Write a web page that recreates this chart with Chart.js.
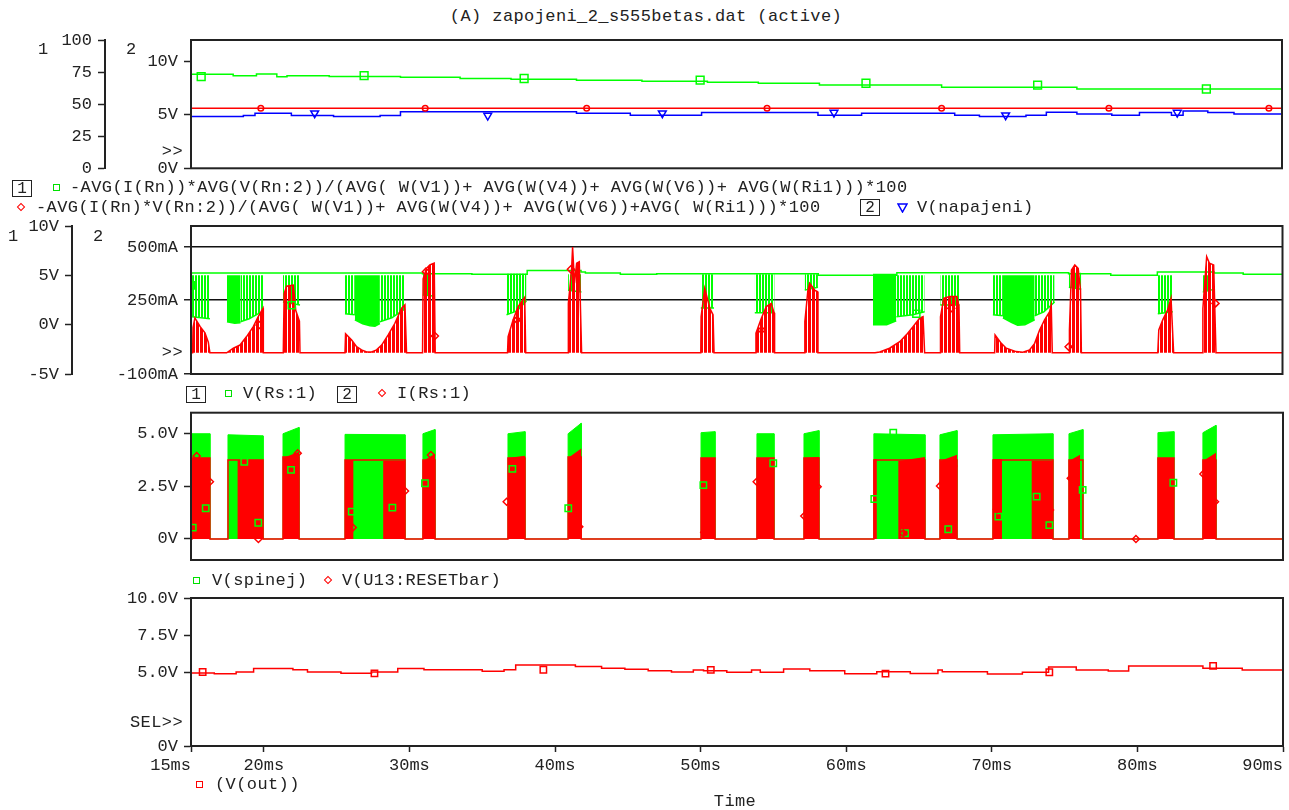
<!DOCTYPE html>
<html>
<head>
<meta charset="utf-8">
<script src="https://cdn.jsdelivr.net/npm/chart.js"></script>
<style>
body { margin: 0; background: #fff; width: 1289px; height: 810px; position: relative; overflow: hidden; font-family: 'Liberation Mono', 'DejaVu Sans Mono', monospace; }
canvas { position: absolute; left: 0; }
.t { position: absolute; white-space: pre; font-size: 17px; letter-spacing: 0.4px; line-height: 18px; color: #222; }
.box { position: absolute; border: 1.5px solid #222; width: 18px; height: 15px; text-align: center; font-size: 16px; line-height: 16px; color: #222; }
.sq { position: absolute; width: 5px; height: 5px; border: 1.5px solid; }
.dm { position: absolute; width: 4px; height: 4px; border: 1.5px solid; transform: rotate(45deg); }
</style>
</head>
<body>
<canvas id="p1" width="1289" height="152" style="top:28px"></canvas>
<canvas id="p2" width="1289" height="176" style="top:212px"></canvas>
<canvas id="p3" width="1289" height="176" style="top:398px"></canvas>
<canvas id="p4" width="1289" height="230" style="top:580px"></canvas>

<div class="t" style="left:646px;top:8px;transform:translateX(-50%)">(A) zapojeni_2_s555betas.dat (active)</div>

<div class="t" style="left:38px;top:41px">1</div>
<div class="t" style="left:126px;top:41px">2</div>
<div class="t" style="right:1106px;top:143px">&gt;&gt;</div>

<div class="box" style="left:12px;top:180px">1</div>
<div class="sq" style="left:53px;top:184px;border-color:#00e000"></div>
<div class="t" style="left:70px;top:179px">-AVG(I(Rn))*AVG(V(Rn:2))/(AVG( W(V1))+ AVG(W(V4))+ AVG(W(V6))+ AVG(W(Ri1)))*100</div>
<div class="dm" style="left:18px;top:204px;border-color:#f00"></div>
<div class="t" style="left:36px;top:199px">-AVG(I(Rn)*V(Rn:2))/(AVG( W(V1))+ AVG(W(V4))+ AVG(W(V6))+AVG( W(Ri1)))*100</div>
<div class="box" style="left:860px;top:199px">2</div>
<svg style="position:absolute;left:897px;top:203px" width="11" height="10"><polygon points="1,1 10,1 5.5,9" fill="none" stroke="#00f" stroke-width="1.5"/></svg>
<div class="t" style="left:917px;top:199px">V(napajeni)</div>

<div class="t" style="left:8px;top:228px">1</div>
<div class="t" style="left:93px;top:228px">2</div>
<div class="t" style="right:1106px;top:344px">&gt;&gt;</div>

<div class="box" style="left:186px;top:386px">1</div>
<div class="sq" style="left:225px;top:390px;border-color:#00e000"></div>
<div class="t" style="left:243px;top:385px">V(Rs:1)</div>
<div class="box" style="left:337px;top:386px">2</div>
<div class="dm" style="left:379px;top:390px;border-color:#f00"></div>
<div class="t" style="left:397px;top:385px">I(Rs:1)</div>

<div class="sq" style="left:193px;top:577px;border-color:#00e000"></div>
<div class="t" style="left:212px;top:572px">V(spinej)</div>
<div class="dm" style="left:325px;top:577px;border-color:#f00"></div>
<div class="t" style="left:342px;top:572px">V(U13:RESETbar)</div>

<div class="t" style="right:1106px;top:714px">SEL&gt;&gt;</div>

<div class="sq" style="left:196px;top:781px;border-color:#f00"></div>
<div class="t" style="left:215px;top:776px">(V(out))</div>
<div class="t" style="left:735px;top:793px;transform:translateX(-50%)">Time</div>

<script>
// time axis (ms)
var tMin = 15, tMax = 90;
var timeTicks = [15, 20, 30, 40, 50, 60, 70, 80, 90];
var timeLabels = ['15ms', '20ms', '30ms', '40ms', '50ms', '60ms', '70ms', '80ms', '90ms'];

// panel 1 - efficiency (%) and supply voltage
var effTime = [15.0, 17.9, 19.5, 20.9, 21.6, 24.5, 29.4, 33.5, 37.0, 41.5, 46.0, 50.5, 54.0, 58.2, 66.6, 75.9, 84.8, 90];
var effValue = [71.4, 73.3, 72.2, 73.5, 71.4, 72.2, 71.6, 70.9, 70.0, 69.4, 68.7, 67.9, 67.0, 66.3, 64.9, 63.1, 61.8, 61.8];
var effMarkTime = [15.7, 26.9, 37.9, 50.0, 61.4, 73.2, 84.8];
var eff2Time = [15, 90];
var eff2Value = [46.8, 46.8];
var eff2MarkTime = [19.8, 31.1, 42.2, 54.6, 66.6, 78.1, 89.1];
var napTime = [15.0, 18.6, 19.4, 21.9, 24.8, 28.0, 29.4, 41.5, 45.2, 50.1, 58.1, 61.1, 67.5, 69.2, 72.4, 73.8, 75.9, 78.3, 80.2, 82.4, 83.2, 84.9, 86.7, 88.9, 90];
var napValue = [4.93, 4.84, 4.93, 5.16, 4.93, 4.84, 4.93, 5.30, 5.16, 4.97, 5.21, 4.97, 5.16, 4.97, 4.84, 4.97, 5.25, 5.09, 4.97, 5.21, 4.97, 5.37, 5.21, 5.09, 5.09];
var napMarkTime = [23.5, 35.4, 47.4, 59.2, 71.0, 82.8];

// panel 2 - V(Rs:1) top level and switching bursts (low envelopes), I(Rs:1) bursts (mA)
var rsHighTime = [15.0, 30.9, 34.3, 38.1, 41.8, 42.1, 44.5, 47.0, 58.1, 63.5, 75.3, 78.2, 81.4, 85.3, 87.3, 89.3, 90];
var rsHighValue = [5.0, 5.23, 5.17, 5.1, 5.5, 5.33, 5.23, 5.1, 5.15, 5.0, 5.27, 5.17, 5.0, 5.33, 5.23, 5.1, 5.1];
var rsDenseBursts = [
  [[17.47, 0.3], [18.0, 0.15], [18.4, 0.2]],
  [[26.26, 0.5], [26.8, 0.1], [27.3, -0.1], [27.64, -0.15], [27.98, 0.1]],
  [[61.86, 0.0], [62.8, 0.0], [63.46, 0.4]],
  [[70.79, 0.7], [71.4, 0.2], [71.8, -0.05], [72.3, 0.0], [72.97, 0.5]]
];
var rsSparseBursts = [
  [[15.07, 0.8], [16.3, 0.6]],
  [[18.4, 0.3], [19.0, 0.6], [19.6, 1.1], [19.95, 1.3]],
  [[21.32, 2.3], [22.49, 2.0]],
  [[25.58, 1.1], [26.26, 1.0]],
  [[27.98, 0.3], [28.8, 0.7], [29.7, 1.6]],
  [[30.93, 3.0], [31.62, 2.9]],
  [[36.68, 1.0], [37.4, 1.4], [38.05, 2.4]],
  [[40.91, 3.5], [41.83, 3.3]],
  [[50.03, 1.7], [50.94, 1.7]],
  [[53.74, 1.2], [55.1, 1.2]],
  [[57.17, 3.5], [58.08, 3.8]],
  [[63.47, 0.8], [64.6, 1.0], [65.41, 1.3]],
  [[66.49, 2.0], [67.82, 2.0]],
  [[70.1, 1.0], [70.79, 0.9]],
  [[72.97, 0.9], [73.6, 1.3], [74.34, 2.3]],
  [[75.32, 3.8], [76.17, 3.6]],
  [[81.43, 1.1], [82.46, 1.3]],
  [[84.52, 3.3], [85.33, 3.6]]
];
var rsCurBursts = [
  [[15.11, 0], [15.14, 120], [15.27, 165], [15.62, 125], [15.96, 95], [16.19, 50], [16.3, 0]],
  [[17.45, 0], [17.91, 22], [18.37, 37], [18.82, 77], [19.28, 124], [19.62, 171], [19.95, 211], [19.97, 0]],
  [[21.34, 0], [21.4, 280], [21.57, 315], [22.03, 320], [22.2, 200], [22.45, 150], [22.49, 0]],
  [[25.58, 0], [25.62, 90], [26.04, 61], [26.38, 29], [26.72, 14], [27.07, 4], [27.41, 4], [27.75, 14], [28.1, 37], [28.55, 85], [29.01, 140], [29.47, 211], [29.7, 227], [29.81, 0]],
  [[30.91, 0], [30.95, 350], [31.18, 400], [31.41, 416], [31.71, 424], [31.78, 0]],
  [[36.75, 0], [36.79, 77], [37.13, 156], [37.48, 219], [37.93, 263], [38.0, 0]],
  [[40.92, 0], [40.93, 234], [41.15, 392], [41.22, 500], [41.35, 330], [41.5, 424], [41.68, 431], [41.84, 0]],
  [[50.03, 0], [50.05, 171], [50.3, 306], [50.65, 211], [50.87, 180], [50.94, 0]],
  [[53.8, 0], [53.82, 93], [54.19, 164], [54.53, 219], [54.87, 234], [55.06, 190], [55.1, 0]],
  [[57.17, 0], [57.18, 148], [57.39, 297], [57.51, 329], [57.85, 297], [58.03, 290], [58.08, 0]],
  [[62.0, 0], [62.32, 4], [63.0, 22], [63.7, 53], [64.15, 85], [64.61, 124], [65.07, 164], [65.3, 171], [65.41, 0]],
  [[66.49, 0], [66.5, 171], [66.72, 258], [67.13, 266], [67.63, 266], [67.77, 220], [67.82, 0]],
  [[70.22, 0], [70.25, 85], [70.68, 45], [71.02, 22], [71.7, 6], [72.16, 3], [72.62, 14], [72.97, 45], [73.31, 108], [73.65, 156], [74.0, 195], [74.11, 227], [74.18, 0]],
  [[75.34, 0], [75.36, 108], [75.5, 392], [75.73, 416], [75.96, 400], [76.12, 297], [76.18, 0]],
  [[81.43, 0], [81.5, 108], [81.77, 156], [82.11, 203], [82.34, 258], [82.52, 0]],
  [[84.52, 0], [84.53, 211], [84.79, 455], [84.98, 424], [85.27, 416], [85.43, 0]]
];
var rsVMarks = [[15.0, 3.98], [21.92, 1.96], [64.84, 1.11]];
var rsIMarks = [[19.7, 132], [31.14, 384], [31.76, 80], [37.4, 156], [41.1, 395], [54.2, 108], [67.24, 211], [75.3, 29], [85.4, 234]];

// panel 3 - V(spinej) bursts and V(U13:RESETbar)
var spinejStart = [15.07, 17.54, 21.32, 25.58, 30.93, 36.77, 40.90, 50.03, 53.87, 57.10, 61.90, 66.44, 70.08, 75.30, 81.41, 84.50];
var spinejEnd = [16.30, 19.95, 22.42, 29.70, 31.76, 37.94, 41.80, 50.99, 55.04, 58.13, 65.41, 67.61, 74.20, 76.26, 82.51, 85.40];
var spinejTopA = [5.0, 4.95, 5.0, 4.97, 5.0, 5.0, 5.0, 5.05, 5.0, 5.0, 5.0, 4.95, 4.95, 5.0, 5.05, 5.05];
var spinejTopB = [5.0, 4.9, 5.3, 4.95, 5.2, 5.1, 5.5, 5.1, 5.0, 5.15, 4.95, 5.15, 5.0, 5.2, 5.1, 5.4];
var resetTop = [3.85, 3.75, 3.9, 3.75, 3.75, 3.85, 3.9, 3.85, 3.85, 3.85, 3.75, 3.75, 3.75, 3.75, 3.85, 3.75];
var resetStart = [15.07, 18.20, 21.32, 25.58, 28.20, 30.93, 36.77, 40.90, 50.03, 53.87, 57.10, 61.90, 63.58, 66.44, 70.08, 72.74, 75.30, 81.41, 84.50];
var resetEnd = [16.30, 19.95, 22.42, 26.15, 29.70, 31.76, 37.94, 41.80, 50.99, 55.04, 58.13, 62.10, 65.41, 67.61, 70.70, 74.20, 76.06, 82.51, 85.40];
var resetTopA = [3.85, 3.75, 3.85, 3.75, 3.7, 3.7, 3.85, 3.85, 3.85, 3.85, 3.85, 3.8, 3.7, 3.7, 3.8, 3.7, 3.7, 3.85, 3.7];
var resetTopB = [3.85, 3.75, 4.15, 3.75, 3.7, 4.05, 3.95, 4.3, 3.85, 3.85, 3.9, 3.8, 3.9, 4.0, 3.8, 3.7, 4.0, 3.85, 4.1];
var spinejMarks = [[15.12, 0.54], [16.01, 1.46], [18.66, 3.67], [19.62, 0.77], [21.87, 3.28], [26.04, 1.30], [28.83, 1.49], [31.07, 2.65], [37.07, 3.33], [40.91, 1.46], [50.19, 2.56], [54.99, 3.60], [61.93, 1.90], [63.23, 5.05], [64.04, 0.27], [67.01, 0.46], [70.45, 1.06], [73.08, 2.01], [73.95, 0.66], [76.24, 2.33], [82.47, 2.67]];
var resetMarks = [[15.39, 3.94], [16.3, 2.72], [18.83, 0.51], [19.63, 0], [22.33, 4.07], [26.11, 0.54], [29.7, 2.28], [31.48, 3.99], [36.68, 1.77], [41.67, 0.58], [50.25, 0.32], [53.85, 2.72], [54.65, 1.69], [57.12, 1.09], [58.04, 2.48], [63.92, 0.27], [64.79, 0.95], [66.44, 2.52], [67.36, 3.47], [70.34, 1.41], [73.08, 0.77], [74.0, 1.38], [75.42, 2.88], [79.9, 0], [82.01, 2.01], [84.53, 3.09], [85.33, 1.77]];

// panel 4 - V(out)
var outTime = [15.0, 16.6, 18.1, 19.3, 22.0, 23.0, 25.3, 27.4, 29.2, 31.0, 35.0, 36.5, 37.3, 41.4, 43.2, 44.8, 46.4, 48.0, 49.5, 50.2, 51.8, 53.5, 54.1, 55.7, 57.5, 59.9, 62.1, 64.4, 66.3, 66.6, 69.7, 72.1, 73.9, 75.8, 78.0, 79.4, 84.5, 87.2, 89.0, 90];
var outValue = [5.0, 4.93, 4.89, 5.0, 5.23, 5.16, 5.0, 4.91, 5.0, 5.24, 5.16, 5.05, 5.15, 5.48, 5.38, 5.25, 5.18, 5.09, 5.0, 5.14, 5.09, 4.98, 5.14, 4.98, 5.2, 5.09, 4.89, 5.02, 4.9, 5.14, 5.02, 4.86, 4.98, 5.33, 5.14, 5.07, 5.41, 5.25, 5.14, 5.14];
var outMarkTime = [15.8, 27.6, 39.2, 50.7, 62.7, 73.95, 85.2];

var FONT = { family: "'Liberation Mono', 'DejaVu Sans Mono', monospace", size: 17 };
var INK = '#222';
var GREEN = '#00ff00', RED = '#ff0000', BLUE = '#0000ff';

function pts(t, v) { return t.map(function (x, i) { return { x: x, y: v[i] }; }); }
function pairs(list) { return list.map(function (p) { return { x: p[0], y: p[1] }; }); }
function stepAt(t, v, x) {
  var y = v[0];
  for (var i = 0; i < t.length; i++) { if (t[i] <= x) y = v[i]; }
  return y;
}
function blocks(start, end, topA, topB) {
  var out = [{ x: tMin, y: 0 }];
  for (var i = 0; i < start.length; i++) {
    out.push({ x: start[i], y: 0 }, { x: start[i], y: topA[i] }, { x: end[i], y: topB[i] }, { x: end[i], y: 0 });
  }
  out.push({ x: tMax, y: 0 });
  return out;
}
function stripes(canvasId, color, on, period) {
  var tile = document.createElement('canvas');
  tile.width = period; tile.height = 4;
  var g = tile.getContext('2d');
  g.fillStyle = color;
  g.fillRect(0, 0, on, 4);
  return document.getElementById(canvasId).getContext('2d').createPattern(tile, 'repeat');
}

function xScale(show) {
  var s = {
    type: 'linear', min: tMin, max: tMax, display: show,
    afterBuildTicks: function (sc) { sc.ticks = timeTicks.map(function (v) { return { value: v }; }); },
    ticks: {
      autoSkip: false, maxRotation: 0, font: FONT, color: INK, padding: 3,
      // first and last label sit left of their tick, like the original
      callback: function (v, i) { return (i === 0 || i === timeTicks.length - 1) ? timeLabels[i] + '    ' : timeLabels[i]; }
    },
    grid: { drawOnChartArea: false, tickLength: 6, tickColor: INK, tickWidth: 1.5 },
    border: { color: INK, width: 2 }
  };
  if (show) s.afterFit = function (sc) { sc.height = 40; sc.paddingLeft = 0; sc.paddingRight = 0; };
  return s;
}

function yScale(min, max, ticks, labels, width, weight, chartGrid) {
  return {
    type: 'linear', position: 'left', weight: weight, min: min, max: max,
    afterBuildTicks: function (sc) { sc.ticks = ticks.map(function (v) { return { value: v }; }); },
    afterFit: function (sc) { sc.width = width; sc.paddingTop = 0; sc.paddingBottom = 0; },
    ticks: { autoSkip: false, font: FONT, color: INK, padding: 6, callback: function (v, i) { return labels[i]; } },
    grid: chartGrid
      ? { color: '#111', lineWidth: 1.5, tickLength: 7, tickColor: INK, tickWidth: 1.5 }
      : { drawOnChartArea: false, tickLength: 7, tickColor: INK, tickWidth: 1.5 },
    border: { color: INK, width: 2 }
  };
}

function line(data, color, axis, extra) {
  var d = { data: data, borderColor: color, backgroundColor: color, yAxisID: axis, pointRadius: 0, fill: false, borderWidth: 1.5 };
  for (var k in (extra || {})) d[k] = extra[k];
  return d;
}
function marks(data, color, style, r, axis, rot) {
  return {
    data: data, showLine: false, yAxisID: axis, pointStyle: style, pointRadius: r,
    pointBorderColor: color, pointBackgroundColor: 'rgba(0,0,0,0)', pointBorderWidth: 1.5,
    pointRotation: rot || 0, borderColor: color
  };
}

var frame = {
  id: 'frame',
  afterDatasetsDraw: function (c) {
    var a = c.chartArea, x = c.ctx;
    x.save();
    x.strokeStyle = INK; x.lineWidth = 2;
    x.strokeRect(a.left, a.top, a.right - a.left, a.bottom - a.top);
    x.restore();
  }
};

function panel(id, yScales, datasets, pad, showX) {
  var scales = { x: xScale(showX) };
  for (var k in yScales) scales[k] = yScales[k];
  return new Chart(document.getElementById(id), {
    type: 'line',
    data: { datasets: datasets },
    options: {
      responsive: false, animation: false, devicePixelRatio: 1,
      layout: { padding: pad },
      plugins: { legend: { display: false }, tooltip: { enabled: false } },
      elements: { line: { tension: 0 } },
      scales: scales
    },
    plugins: [frame]
  });
}

// panel 1
panel('p1', {
  yP: yScale(0, 100, [0, 25, 50, 75, 100], ['0', '25', '50', '75', '100'], 85, 1, false),
  yV: yScale(0, 12, [0, 5, 10], ['0V', '5V', '10V'], 86, 0, false)
}, [
  marks(napMarkTime.map(function (t) { return { x: t, y: stepAt(napTime, napValue, t) }; }), BLUE, 'triangle', 4.5, 'yV', 180),
  marks(eff2MarkTime.map(function (t) { return { x: t, y: stepAt(eff2Time, eff2Value, t) }; }), RED, 'circle', 2.8, 'yP'),
  marks(effMarkTime.map(function (t) { return { x: t, y: stepAt(effTime, effValue, t) }; }), GREEN, 'rect', 5.5, 'yP'),
  line(pts(napTime, napValue), BLUE, 'yV', { stepped: 'after' }),
  line(pts(eff2Time, eff2Value), RED, 'yP'),
  line(pts(effTime, effValue), GREEN, 'yP', { stepped: 'after' })
], { left: 20, right: 6, top: 12, bottom: 11.7 }, false);

// panel 2
var curPts = [{ x: tMin, y: 0 }];
rsCurBursts.forEach(function (b) { curPts = curPts.concat(pairs(b)); });
curPts.push({ x: tMax, y: 0 });
var ds2 = [
  marks(pairs(rsIMarks), RED, 'rectRot', 3.5, 'yI'),
  marks(pairs(rsVMarks), GREEN, 'rect', 5, 'yV'),
  line(curPts, RED, 'yI', { fill: 'origin', backgroundColor: stripes('p2', RED, 3, 4), borderWidth: 1.5 }),
  line(pts(rsHighTime, rsHighValue), GREEN, 'yV', { stepped: 'after' })
];
rsDenseBursts.forEach(function (b) {
  var mid = (b[0][0] + b[b.length - 1][0]) / 2;
  ds2.push(line(pairs(b), GREEN, 'yV', { fill: { value: stepAt(rsHighTime, rsHighValue, mid) }, backgroundColor: GREEN, borderWidth: 1.5 }));
});
rsSparseBursts.forEach(function (b) {
  var mid = (b[0][0] + b[b.length - 1][0]) / 2;
  ds2.push(line(pairs(b), GREEN, 'yV', { fill: { value: stepAt(rsHighTime, rsHighValue, mid) }, backgroundColor: stripes('p2', GREEN, 2, 3), borderWidth: 1.5 }));
});
panel('p2', {
  yV: yScale(-5, 10, [-5, 0, 5, 10], ['-5V', '0V', '5V', '10V'], 62, 1, false),
  yI: yScale(-100, 600, [-100, 250, 500], ['-100mA', '250mA', '500mA'], 119, 0, true)
}, ds2, { left: 10, right: 6, top: 14, bottom: 14 }, false);

// panel 3
panel('p3', {
  y: yScale(-1, 6, [0, 2.5, 5], ['0V', '2.5V', '5.0V'], 191, 0, false)
}, [
  marks(pairs(resetMarks), RED, 'rectRot', 3.5, 'y'),
  marks(pairs(spinejMarks), GREEN, 'rect', 4.5, 'y'),
  line(blocks(spinejStart, spinejEnd, resetTop, resetTop), RED, 'y', { borderWidth: 1.5 }),
  line(blocks(resetStart, resetEnd, resetTopA, resetTopB), RED, 'y', { fill: 'origin', borderWidth: 0 }),
  line(blocks(spinejStart, spinejEnd, spinejTopA, spinejTopB), GREEN, 'y', { fill: 'origin', borderWidth: 1 })
], { left: 0, right: 6, top: 14.7, bottom: 14 }, false);

// panel 4
panel('p4', {
  y: yScale(0, 10, [0, 5, 7.5, 10], ['0V', '5.0V', '7.5V', '10.0V'], 191, 0, false)
}, [
  marks(outMarkTime.map(function (t) { return { x: t, y: stepAt(outTime, outValue, t) }; }), RED, 'rect', 4.5, 'y'),
  line(pts(outTime, outValue), RED, 'y', { stepped: 'after' })
], { left: 0, right: 6, top: 18, bottom: 24 }, true);
</script>
</body>
</html>
